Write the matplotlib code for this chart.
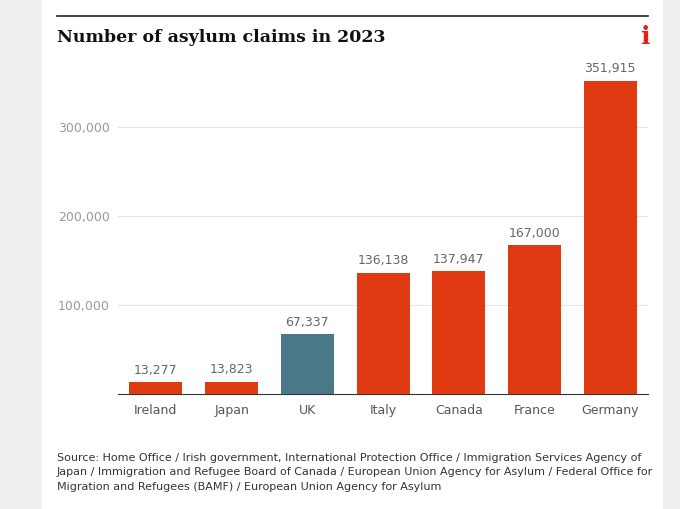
import matplotlib.pyplot as plt
from matplotlib.patches import Rectangle

countries = ["Ireland", "Japan", "UK", "Italy", "Canada", "France", "Germany"]
claims = [13277, 13823, 67337, 136138, 137947, 167000, 351915]
colors = ["#e03a12"] * 7
colors[2] = "#4a7886"

W, H = 680, 509
fig = plt.figure(figsize=(6.8, 5.09), dpi=100)
fig.patch.set_facecolor("#efefef")
fig.add_artist(Rectangle((42 / W, 0), (663 - 42) / W, 1, transform=fig.transFigure,
                         facecolor="white", edgecolor="none", zorder=0))
fig.add_artist(plt.Line2D([57 / W, 648 / W], [1 - 16 / H, 1 - 16 / H], color="#222222", lw=1.2))
fig.text(57 / W, 1 - 37 / H, "Number of asylum claims in 2023", family="DejaVu Serif",
         weight="bold", fontsize=12.5, va="center", color="#111111")
fig.text(645 / W, 1 - 37 / H, "i", family="DejaVu Serif", weight="bold", fontsize=18,
         va="center", ha="center", color="#e2231a")

ax = fig.add_axes([118 / W, 1 - 394 / H, (648 - 118) / W, (394 - 60) / H])
ax.set_facecolor("none")
x = range(len(countries))
ax.bar(x, claims, width=0.7, color=colors, zorder=3)
for i, v in enumerate(claims):
    ax.text(i, v + 6000, f"{v:,}", ha="center", va="bottom", fontsize=9, color="#666666")
ax.set_ylim(0, 394 / 89 * 100000 - 394 / 89 * 100000 + 334 / 89 * 100000)
ax.set_xlim(-0.5, 6.5)
ax.set_yticks([100000, 200000, 300000])
ax.set_yticklabels(["100,000", "200,000", "300,000"])
ax.set_xticks(list(x))
ax.set_xticklabels(countries)
ax.tick_params(axis="both", length=0, labelsize=9, labelcolor="#555555")
ax.tick_params(axis="y", pad=6, labelcolor="#999999")
ax.tick_params(axis="x", pad=7)
ax.grid(axis="y", color="#e6e6e6", lw=0.8, zorder=0)
for s in ["top", "right", "left"]:
    ax.spines[s].set_visible(False)
ax.spines["bottom"].set_color("#333333")

fig.text(57 / W, 1 - 453 / H,
         "Source: Home Office / Irish government, International Protection Office / Immigration Services Agency of\n"
         "Japan / Immigration and Refugee Board of Canada / European Union Agency for Asylum / Federal Office for\n"
         "Migration and Refugees (BAMF) / European Union Agency for Asylum",
         fontsize=8, va="top", color="#333333", linespacing=1.55)

fig.savefig("out.png", dpi=100, facecolor=fig.get_facecolor())
